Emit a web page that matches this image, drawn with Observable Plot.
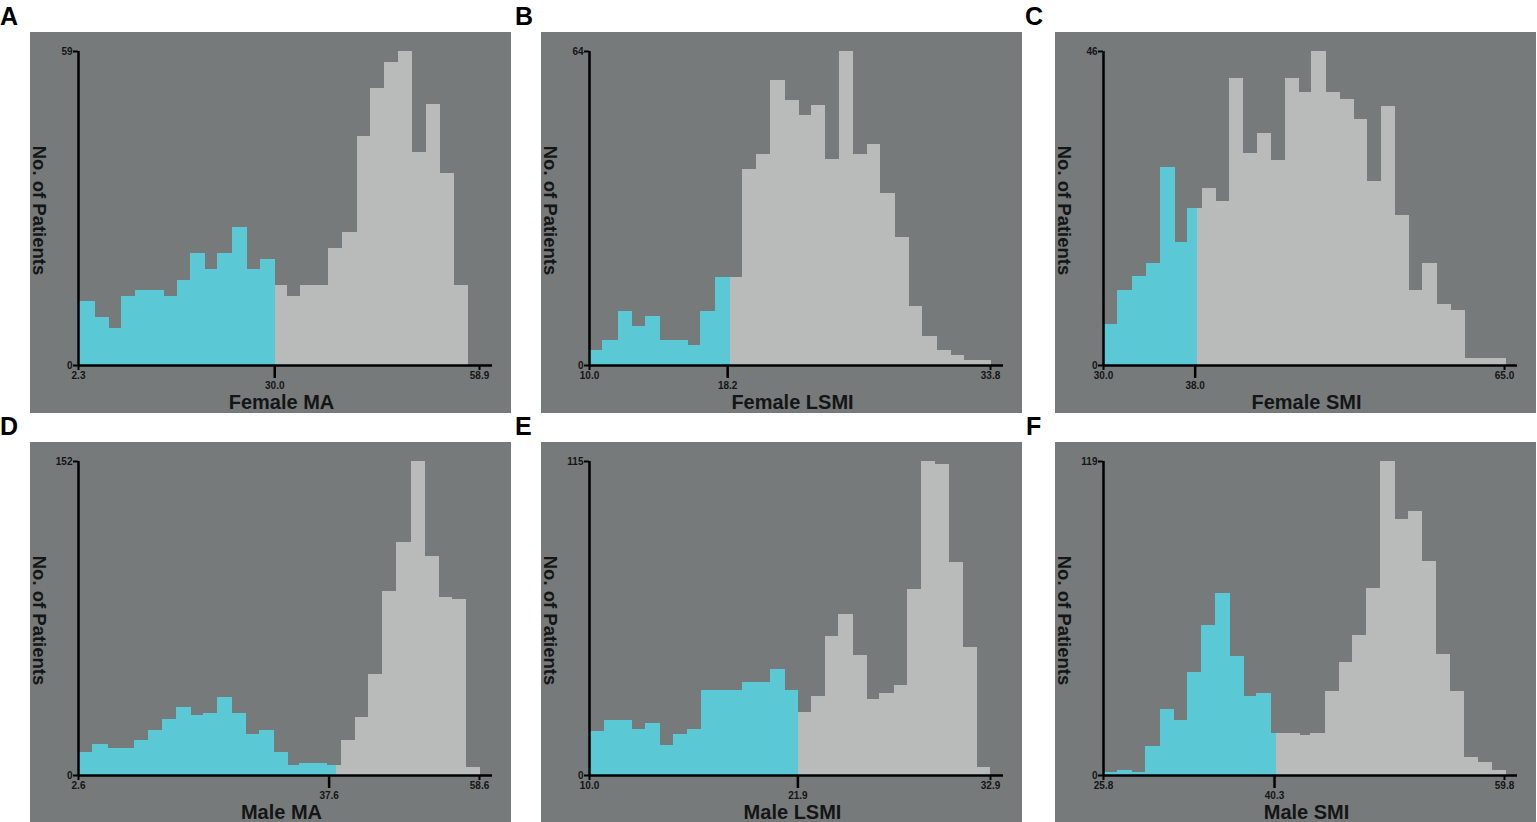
<!DOCTYPE html>
<html>
<head>
<meta charset="utf-8">
<script src="https://cdn.jsdelivr.net/npm/d3@7"></script>
<script src="https://cdn.jsdelivr.net/npm/@observablehq/plot@0.6"></script>
<style>
  body { margin: 0; background: #ffffff; font-family: "Liberation Sans", Arial, sans-serif; }
  #root { position: relative; width: 1537px; height: 822px; overflow: hidden; }
  .panel { position: absolute; }
  .letter { position: absolute; font-size: 25px; font-weight: bold; line-height: 1; color: #000; }
</style>
</head>
<body>
<div id="root"></div>
<script>
// ---------- data (bin edges, counts, cut-off, tick labels) ----------
const panelLetters = ["A", "B", "C", "D", "E", "F"];
const xTitles = ["Female MA", "Female LSMI", "Female SMI", "Male MA", "Male LSMI", "Male SMI"];
const yTitle = "No. of Patients";

// A: Female MA
const aTicks = [2.3, 30.0, 58.9];
const aYMax = 59;
const aCut = 30.1;
const aEdges = [2.3, 4.66, 6.64, 8.38, 10.32, 12.3, 14.42, 16.21, 18.1, 20.18, 21.97, 24.09, 26.21, 27.96, 30.1,
  31.87, 33.67, 35.65, 37.63, 39.51, 41.68, 43.57, 45.55, 47.44, 49.47, 51.35, 53.43, 55.36, 57.34];
const aCounts = [12, 9, 7, 13, 14, 14, 13, 16, 21, 18, 21, 26, 18, 20,
  15, 13, 15, 15, 22, 25, 43, 52, 57, 59, 40, 49, 36, 15];

// B: Female LSMI
const bTicks = [10.0, 18.2, 33.8];
const bYMax = 64;
const bCut = 18.35;
const bEdges = [10.0, 10.79, 11.7, 12.58, 13.33, 14.22, 15.05, 15.87, 16.6, 17.45, 18.35,
  19.08, 19.93, 20.76, 21.61, 22.45, 23.18, 24.03, 24.82, 25.66, 26.51, 27.3, 28.15, 28.99, 29.78,
  30.63, 31.46, 32.26, 33.05, 33.84];
const bCounts = [3, 5, 11, 8, 10, 5, 5, 4, 11, 18,
  18, 40, 43, 58, 54, 51, 53, 42, 64, 43, 45, 35, 26, 12, 6, 3, 2, 1, 1];

// C: Female SMI
const cTicks = [30.0, 38.0, 65.0];
const cYMax = 46;
const cCut = 38.2;
const cEdges = [30.0, 31.25, 32.5, 33.72, 34.95, 36.26, 37.3, 38.2,
  38.67, 39.83, 41.0, 42.25, 43.41, 44.69, 45.86, 47.11, 48.18, 49.49, 50.69, 51.91, 53.07, 54.24,
  55.49, 56.71, 57.87, 59.12, 60.35, 61.57, 62.8, 64.0, 65.2];
const cCounts = [6, 11, 13, 15, 29, 18, 23,
  23, 26, 24, 42, 31, 34, 30, 42, 40, 46, 40, 39, 36, 27, 38, 22, 11, 15, 9, 8, 1, 1, 1];

// D: Male MA
const dTicks = [2.6, 37.6, 58.6];
const dYMax = 152;
const dCut = 38.6;
const dEdges = [2.6, 4.6, 6.79, 8.56, 10.42, 12.38, 14.33, 16.24, 18.34, 20.06, 22.06, 24.16, 26.11,
  27.88, 29.97, 31.93, 33.47, 35.42, 37.42, 38.6, 39.29, 41.24, 43.1, 45.1, 47.06, 49.06, 51.02,
  53.02, 54.88, 56.84, 58.79];
const dCounts = [11, 15, 13, 13, 17, 22, 27, 33, 29, 30, 38, 30, 20, 22, 11, 5, 6, 6, 5,
  5, 17, 28, 49, 89, 113, 152, 106, 86, 85, 4];

// E: Male LSMI
const eTicks = [10.0, 21.9, 32.9];
const eYMax = 115;
const eCut = 21.96;
const eEdges = [10.0, 10.84, 11.65, 12.47, 13.21, 14.07, 14.79, 15.59, 16.41, 17.27, 17.99, 18.73,
  19.51, 20.31, 21.22, 21.96, 22.65, 23.45, 24.24, 25.06, 25.86, 26.58, 27.4, 28.16, 28.96, 29.78,
  30.58, 31.38, 32.16, 32.9];
const eCounts = [16, 20, 20, 17, 19, 11, 15, 17, 31, 31, 31, 34, 34, 39, 31,
  23, 29, 51, 59, 44, 28, 30, 33, 68, 115, 114, 78, 47, 3];

// F: Male SMI
const fTicks = [25.8, 40.3, 59.8];
const fYMax = 119;
const fCut = 40.45;
const fEdges = [25.8, 27.02, 28.29, 29.33, 30.6, 31.82, 32.92, 34.14, 35.33, 36.6, 37.76, 38.8,
  40.07, 40.45, 41.29, 42.48, 43.38, 44.6, 45.78, 46.94, 48.13, 49.32, 50.53, 51.66, 52.88, 54.06,
  55.25, 56.41, 57.6, 58.81, 60.0];
const fCounts = [1, 2, 1, 11, 25, 21, 39, 57, 69, 45, 30, 31, 16,
  16, 16, 15, 16, 32, 43, 53, 71, 119, 97, 100, 81, 46, 32, 7, 5, 2];

// ---------- styling / layout ----------
const BG = "#767a7b";
const CYAN = "#5bc8d6";
const GREY = "#b9baba";
const FONT = '"Liberation Sans", Arial, sans-serif';

const layout = [
  {left: 30, top: 32, h: 381, letterLeft: 0, letterTop: 4},
  {left: 541, top: 32, h: 381, letterLeft: 515, letterTop: 4},
  {left: 1055, top: 32, h: 381, letterLeft: 1025, letterTop: 4},
  {left: 30, top: 442, h: 380, letterLeft: 0, letterTop: 414},
  {left: 541, top: 442, h: 380, letterLeft: 515, letterTop: 414},
  {left: 1055, top: 442, h: 380, letterLeft: 1026, letterTop: 414}
];

const series = [
  {edges: aEdges, counts: aCounts, cut: aCut, ticks: aTicks, ymax: aYMax},
  {edges: bEdges, counts: bCounts, cut: bCut, ticks: bTicks, ymax: bYMax},
  {edges: cEdges, counts: cCounts, cut: cCut, ticks: cTicks, ymax: cYMax},
  {edges: dEdges, counts: dCounts, cut: dCut, ticks: dTicks, ymax: dYMax},
  {edges: eEdges, counts: eCounts, cut: eCut, ticks: eTicks, ymax: eYMax},
  {edges: fEdges, counts: fCounts, cut: fCut, ticks: fTicks, ymax: fYMax}
];

const root = document.getElementById("root");
const fmt = d => d.toFixed(1);

series.forEach((s, k) => {
  const L = layout[k];
  const H = L.h;
  const bins = s.counts.map((n, i) => ({x0: s.edges[i], x1: s.edges[i + 1], n}));
  const low = bins.filter(d => d.x1 <= s.cut + 1e-9);
  const high = bins.filter(d => d.x0 >= s.cut - 1e-9);
  const [xmin, xmid, xmax] = s.ticks;

  const chart = Plot.plot({
    width: 481,
    height: H,
    marginLeft: 48,
    marginRight: 19,
    marginTop: 19,
    marginBottom: H - 333,
    x: {domain: [xmin, xmax], range: [48, 449]},
    y: {domain: [0, s.ymax], range: [333, 19]},
    style: {background: BG, color: "#151515", fontFamily: FONT, fontWeight: "bold", overflow: "visible"},
    marks: [
      Plot.rect(low, {x1: "x0", x2: "x1", y1: () => 0, y2: "n", fill: CYAN, shapeRendering: "crispEdges"}),
      Plot.rect(high, {x1: "x0", x2: "x1", y1: () => 0, y2: "n", fill: GREY, shapeRendering: "crispEdges"}),
      Plot.ruleY([0], {stroke: "#000", strokeWidth: 2.5}),
      Plot.ruleX([xmin], {y1: () => 0, y2: () => s.ymax, stroke: "#000", strokeWidth: 2.5}),
      Plot.axisX({ticks: [xmin, xmax], tickSize: 5, tickPadding: 1, tickFormat: fmt, label: null,
        fontSize: 10, stroke: "#000", strokeWidth: 2}),
      Plot.axisX({ticks: [xmid], tickSize: 13, tickPadding: 3, tickFormat: fmt, label: null,
        fontSize: 10, stroke: "#000", strokeWidth: 2.5}),
      Plot.axisY({ticks: [0, s.ymax], tickSize: 5, tickPadding: 1, label: null,
        fontSize: 10, stroke: "#000", strokeWidth: 2}),
      Plot.text([yTitle], {frameAnchor: "top-left", dx: 8.5 - 48, dy: 178 - 19, rotate: 90,
        fontSize: 18.5, fontWeight: "bold", textAnchor: "middle", lineAnchor: "middle", fill: "#151515"}),
      Plot.text([xTitles[k]], {frameAnchor: "top-left", dx: 251 - 48, dy: 376 - 19,
        fontSize: 20, fontWeight: "bold", textAnchor: "middle", lineAnchor: "bottom", fill: "#151515"})
    ]
  });

  const wrap = document.createElement("div");
  wrap.className = "panel";
  wrap.style.left = L.left + "px";
  wrap.style.top = L.top + "px";
  wrap.style.width = "481px";
  wrap.style.height = H + "px";
  wrap.appendChild(chart);
  root.appendChild(wrap);

  const letter = document.createElement("div");
  letter.className = "letter";
  letter.style.left = L.letterLeft + "px";
  letter.style.top = L.letterTop + "px";
  letter.textContent = panelLetters[k];
  root.appendChild(letter);
});
</script>
</body>
</html>
